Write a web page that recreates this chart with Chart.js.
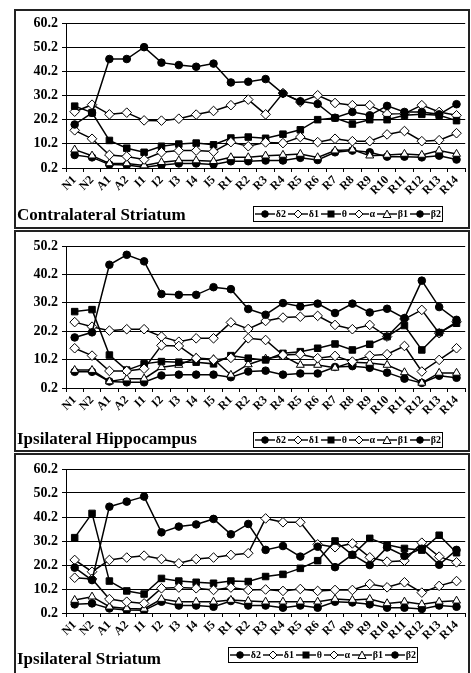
<!DOCTYPE html>
<html>
<head>
<meta charset="utf-8">
<script src="https://cdn.jsdelivr.net/npm/chart.js@4.4.1/dist/chart.umd.min.js"></script>
<style>
  body { margin: 0; background: #fff; width: 471px; height: 673px; overflow: hidden; position: relative;
         font-family: "Liberation Serif", "Times New Roman", serif; }
  .frame { position: absolute; left: 14px; width: 452px; border: 2px solid #222; }
  canvas { position: absolute; left: 14px; }
  .title { position: absolute; left: 17px; font-weight: bold; font-size: 17px; line-height: 17px; }
  .legend { position: absolute; width: 188px; height: 14px; border: 1px solid #000; background: #fff;
            display: flex; align-items: center; justify-content: space-around;
            font-weight: bold; font-size: 10px; line-height: 14px; }
  .legend span { display: flex; align-items: center; }
  .legend svg { margin-right: 1px; }
</style>
</head>
<body>
<div class="frame" style="top:9px;height:216px"></div>
<div class="frame" style="top:230px;height:218px"></div>
<div class="frame" style="top:453px;height:230px"></div>

<canvas id="cs" width="457" height="200" style="top:10px"></canvas>
<canvas id="ih" width="457" height="199" style="top:231px"></canvas>
<canvas id="is" width="457" height="201" style="top:454px"></canvas>

<div class="title" style="top:206px">Contralateral Striatum</div>
<div class="title" style="top:430px">Ipsilateral Hippocampus</div>
<div class="title" style="top:650px">Ipsilateral Striatum</div>

<div class="legend" id="legend-cs" style="left:253px;top:206px"></div>
<div class="legend" id="legend-ih" style="left:253px;top:432px"></div>
<div class="legend" id="legend-is" style="left:228px;top:647px"></div>

<script>
// Categories and series names
const categories = ["N1", "N2", "A1", "A2", "I1", "I2", "I3", "I4", "I5",
  "R1", "R2", "R3", "R4", "R5", "R6", "R7", "R8", "R9", "R10", "R11", "R12", "R13", "R14"];
const seriesNames = ["δ2", "δ1", "θ", "α", "β1", "β2"];

// Y axis ticks
const ticks60 = [0.2, 10.2, 20.2, 30.2, 40.2, 50.2, 60.2];
const ticks50 = [0.2, 10.2, 20.2, 30.2, 40.2, 50.2];
const tickLabels60 = ["0.2", "10.2", "20.2", "30.2", "40.2", "50.2", "60.2"];
const tickLabels50 = ["0.2", "10.2", "20.2", "30.2", "40.2", "50.2"];

// Contralateral Striatum
const csDelta2 = [18.2, 23, 45.3, 45.3, 50.2, 43.8, 42.8, 42.1, 43.4, 35.6, 35.9, 37, 31, 27.8, 26.7, 21, 23.4, 22, 25.9, 23.4, 23.4, 22.4, 26.6];
const csDelta1 = [15.8, 12.3, 5.6, 5, 3.7, 6.7, 7.4, 7.4, 7, 10.9, 9.2, 10.8, 10.5, 13, 10.9, 12.3, 11.3, 11.3, 14.1, 15.5, 11.3, 11.7, 14.6];
const csTheta  = [25.8, 23.1, 11.6, 8.4, 6.7, 9.2, 10.1, 10.5, 9.8, 12.6, 13, 12.5, 14.2, 16, 20.2, 20.9, 18.4, 20.2, 20.2, 22, 22.4, 22, 19.8];
const csAlpha  = [23.5, 26.4, 22.4, 23.1, 19.9, 19.8, 20.6, 22.3, 23.8, 26.2, 28.5, 22.4, 31.2, 27.5, 30.3, 27.1, 26.2, 26.2, 22.5, 22.7, 26.2, 23.4, 22];
const csBeta1  = [7.8, 5.3, 2.1, 2.1, 1.2, 2.6, 3.3, 3.3, 3, 4.6, 4.6, 5.3, 5.6, 6, 4.6, 7.4, 7.8, 5.3, 5.6, 6, 5.6, 7.4, 6];
const csBeta2  = [5.6, 4.6, 1.6, 1.4, 0.5, 1.4, 2.1, 2.1, 1.7, 3, 3, 3.3, 3.3, 4.4, 3.5, 6.7, 7.4, 6.7, 4.9, 4.9, 4.6, 5.3, 3.7];

// Ipsilateral Hippocampus
const ihDelta2 = [18, 19.8, 43.6, 47.1, 44.8, 33.3, 33, 33, 35.7, 35, 28, 26, 30.1, 28.9, 29.9, 26.6, 29.9, 26.8, 28.1, 24.8, 38, 28.7, 24.2];
const ihDelta1 = [14.2, 11.6, 6.2, 6.2, 7, 15.2, 15, 10.7, 10.1, 10.8, 17.7, 17.1, 11.8, 12.1, 10.7, 11.5, 9.5, 11.6, 12.1, 15, 6, 10.1, 14.2];
const ihTheta  = [27.1, 27.8, 11.8, 6.5, 8.7, 9.5, 9.3, 9.3, 8.7, 11.6, 10.7, 10.1, 12.4, 13, 14.2, 15.7, 13.6, 15.6, 18.3, 22.2, 13.6, 19.7, 23];
const ihAlpha  = [23.4, 21.8, 20.4, 20.9, 20.9, 18.3, 16.5, 17.7, 17.7, 23.3, 21, 23.8, 25, 25.3, 25.6, 22.4, 20.9, 22.4, 18.3, 24.5, 27.7, 19.5, 23.5];
const ihBeta1  = [6.5, 6.5, 2.5, 3.5, 3.5, 7.5, 8.3, 10.8, 10.3, 4.8, 8.5, 10.5, 11.5, 8.3, 8.3, 7.3, 9.3, 9, 8.3, 5.7, 2, 5.5, 5.5];
const ihBeta2  = [5.9, 5.9, 2.5, 2.2, 2.2, 4.6, 4.9, 4.9, 4.9, 4, 6, 6.3, 4.9, 5.3, 5.3, 7.6, 7.9, 7.3, 5.6, 3.5, 2, 4.5, 3.8];

// Ipsilateral Striatum
const isDelta2 = [19.1, 13.9, 44.5, 46.6, 48.7, 33.8, 36.2, 37.1, 39.4, 33, 37.3, 26.5, 28.1, 23.7, 27.8, 19.3, 24.5, 20.2, 27.5, 24, 27, 20.3, 26.5];
const isDelta1 = [14.9, 14.4, 6, 4.9, 4.2, 10.5, 10.8, 10.5, 9.8, 10.8, 9.8, 10, 9.4, 10.2, 9.4, 9.8, 9.8, 12.3, 10.9, 13, 8.7, 11.5, 13.5];
const isTheta  = [31.6, 41.7, 13.5, 9.4, 8.1, 14.6, 13.5, 13, 12.6, 13.5, 13.3, 15.4, 16.3, 18.8, 22, 30.2, 24.4, 31.3, 28.6, 27.1, 26.4, 32.6, 25.3];
const isAlpha  = [22.3, 17.4, 22.3, 23.3, 24.1, 22.7, 20.9, 22.7, 23.3, 24.4, 25.1, 39.6, 38, 38, 28.8, 27.6, 29.2, 23.4, 21.6, 22, 29.5, 23.7, 21.3];
const isBeta1  = [5.6, 7, 2.8, 2.1, 1.9, 6, 4.9, 4.9, 4.9, 5.6, 5.2, 4.9, 4.9, 4.9, 4.9, 6, 5.6, 6, 4.2, 4.9, 3.8, 4.9, 5.3];
const isBeta2  = [3.8, 4.2, 2.1, 1.4, 1.3, 4.9, 3.3, 3.3, 2.8, 5.2, 3.3, 3.3, 2.4, 3.3, 2.4, 4.9, 4.6, 3.8, 2.4, 2.4, 1.9, 3.3, 2.8];

// Marker look for each series, same order as seriesNames
const markers = [
  { style: "circle",   radius: 3.8, fill: "#000" },
  { style: "rectRot",  radius: 4.8, fill: "#fff" },
  { style: "rect",     radius: 4.6, fill: "#000" },
  { style: "rectRot",  radius: 4.8, fill: "#fff" },
  { style: "triangle", radius: 4.6, fill: "#fff" },
  { style: "circle",   radius: 3.8, fill: "#000" },
];

const serif = "'Liberation Serif', 'Times New Roman', serif";

// Builds one panel chart
function makePanel(id, tickValues, tickLabels, series, padTop) {
  const ctx = document.getElementById(id).getContext("2d");
  return new Chart(ctx, {
    type: "line",
    data: {
      labels: categories,
      datasets: series.map((values, i) => ({
        label: seriesNames[i],
        data: values,
        borderColor: "#000",
        borderWidth: 1.5,
        tension: 0,
        fill: false,
        pointStyle: markers[i].style,
        pointRadius: markers[i].radius,
        pointBackgroundColor: markers[i].fill,
        pointBorderColor: "#000",
        pointBorderWidth: 1,
      })),
    },
    options: {
      responsive: false,
      animation: false,
      layout: { padding: { top: padTop, right: 3, left: 0, bottom: 0 } },
      plugins: { legend: { display: false }, tooltip: { enabled: false } },
      scales: {
        x: {
          offset: true,
          grid: { offset: true, drawOnChartArea: false, color: "#000", tickLength: 4 },
          border: { color: "#000", width: 1 },
          ticks: {
            autoSkip: false, minRotation: 45, maxRotation: 45, padding: 1,
            color: "#000", font: { family: serif, size: 12, weight: "bold" },
          },
          afterFit: (s) => { s.height = 42; },
        },
        y: {
          min: tickValues[0],
          max: tickValues[tickValues.length - 1],
          afterBuildTicks: (s) => { s.ticks = tickValues.map((v) => ({ value: v })); },
          grid: { color: "#000", lineWidth: 1, tickLength: 4 },
          border: { color: "#000", width: 1 },
          ticks: {
            color: "#000", padding: 4,
            font: { family: serif, size: 14, weight: "bold" },
            callback: (v, idx) => tickLabels[idx],
          },
          afterFit: (s) => { s.width = 52; },
        },
      },
    },
  });
}

makePanel("cs", ticks60, tickLabels60, [csDelta2, csDelta1, csTheta, csAlpha, csBeta1, csBeta2], 13);
makePanel("ih", ticks50, tickLabels50, [ihDelta2, ihDelta1, ihTheta, ihAlpha, ihBeta1, ihBeta2], 15);
makePanel("is", ticks60, tickLabels60, [isDelta2, isDelta1, isTheta, isAlpha, isBeta1, isBeta2], 15);

// Small svg sample of a line with its marker, for the legend
function legendIcon(m) {
  const c = 10, y = 5;
  let shape;
  if (m.style === "circle") shape = `<circle cx="${c}" cy="${y}" r="3.3" fill="${m.fill}" stroke="#000"/>`;
  else if (m.style === "rect") shape = `<rect x="${c - 3}" y="${y - 3}" width="6" height="6" fill="${m.fill}" stroke="#000"/>`;
  else if (m.style === "rectRot") shape = `<polygon points="${c},${y - 4} ${c + 4},${y} ${c},${y + 4} ${c - 4},${y}" fill="${m.fill}" stroke="#000"/>`;
  else shape = `<polygon points="${c},${y - 4} ${c + 4},${y + 3.5} ${c - 4},${y + 3.5}" fill="${m.fill}" stroke="#000"/>`;
  return `<svg width="20" height="10" viewBox="0 0 20 10"><line x1="0" y1="${y}" x2="20" y2="${y}" stroke="#000" stroke-width="1.4"/>${shape}</svg>`;
}

// HTML legends
["legend-cs", "legend-ih", "legend-is"].forEach((id) => {
  const box = document.getElementById(id);
  seriesNames.forEach((name, i) => {
    const item = document.createElement("span");
    item.innerHTML = legendIcon(markers[i]);
    item.appendChild(document.createTextNode(name));
    box.appendChild(item);
  });
});
</script>
</body>
</html>
